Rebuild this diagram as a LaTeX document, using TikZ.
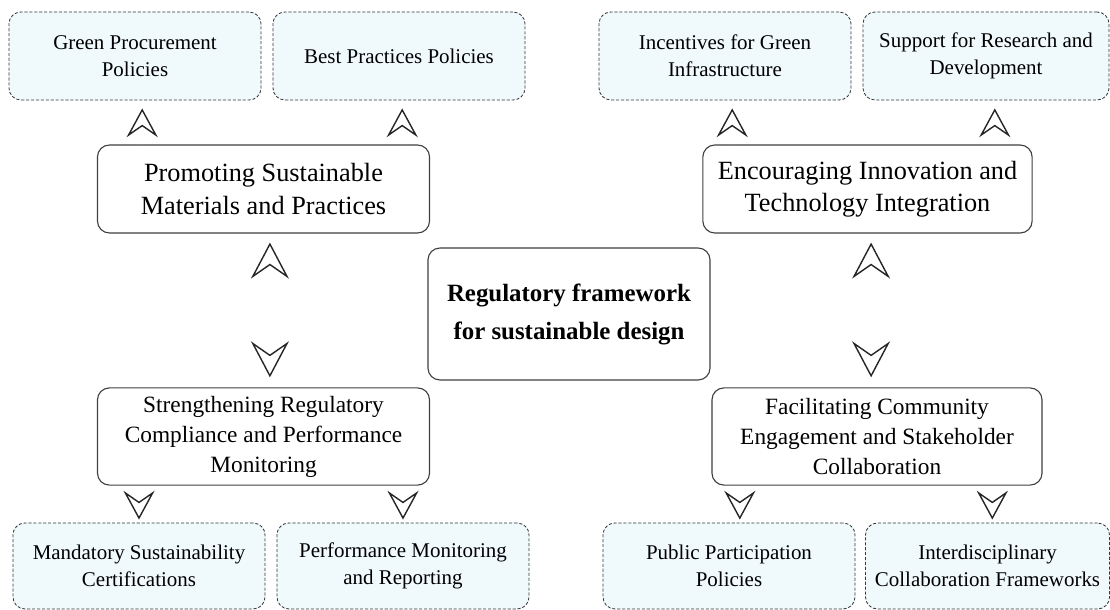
\documentclass[tikz,border=0pt]{standalone}
\usepackage{fontspec}
\setmainfont{Liberation Serif}
\usepackage{tikz}
\usetikzlibrary{arrows.meta,positioning,shapes}
\definecolor{leafblue}{RGB}{240,250,253}

\begin{document}
\begin{tikzpicture}[x=0.025cm,y=-0.025cm]
                \tikzstyle{leaf}=[rectangle, rounded corners=0.3cm, draw=black!78, line width=0.6pt, dash pattern=on 2.2pt off 1.3pt, fill=leafblue, minimum width=6.3cm, minimum height=2.2cm, align=center, font=\fontsize{14.9}{19.2}\selectfont]
                \tikzstyle{theme}=[rectangle, rounded corners=0.3cm, draw=black!75, line width=0.8pt, fill=white, minimum width=8.3cm, minimum height=2.2cm, align=center, font=\fontsize{18.7}{22.8}\selectfont]
                \tikzstyle{pillar}=[theme, minimum height=2.43cm, font=\fontsize{16.6}{21.3}\selectfont]
                \tikzstyle{core}=[theme, minimum width=7.05cm, minimum height=3.3cm, font=\fontsize{17.7}{27}\selectfont\bfseries]
                \tikzstyle{connect}=[white, line width=1pt, shorten >=0.2cm, -{Stealth[open, color=black!85, length=0.72cm, width=0.78cm, inset=0.27cm]}]
                \tikzstyle{twoway}=[white, line width=1pt, shorten <=0.225cm, shorten >=0.25cm, {Stealth[open, color=black!85, length=0.9cm, width=0.95cm, inset=0.33cm]}-{Stealth[open, color=black!85, length=0.9cm, width=0.95cm, inset=0.33cm]}]
                \useasboundingbox (0,0) rectangle (1110,610);
                \node[core] (reg) at (569,314){Regulatory framework\\for sustainable design};
                \node[theme] (prom) at (263.5,189){Promoting Sustainable\\Materials and Practices};
                \node[theme, minimum width=8.23cm] (enc) at (867.5,189){Encouraging Innovation and\\Technology Integration};
                \node[pillar] (stren) at (263.5,436.5){Strengthening Regulatory\\Compliance and Performance\\Monitoring};
                \node[pillar, minimum width=8.25cm] (facil) at (877,436.5){Facilitating Community\\Engagement and Stakeholder\\Collaboration};
    \node[leaf] (green) at (135,56){Green Procurement\\Policies};
                \node[leaf] (best) at (399,56){Best Practices Policies};
                \node[leaf] (incent) at (725,56){Incentives for Green\\Infrastructure};
                \node[leaf, minimum width=6.15cm] (support) at (986,56){Support for Research and\\Development};
    \node[leaf, minimum height=2.15cm] (mand) at (139,566){Mandatory Sustainability\\Certifications};
                \node[leaf, minimum height=2.15cm] (perf) at (403,566){Performance Monitoring\\and Reporting};
                \node[leaf, minimum height=2.15cm] (public) at (729,566){Public Participation\\Policies};
                \node[leaf, minimum height=2.15cm, minimum width=6.1cm] (inter) at (987.5,566){Interdisciplinary\\Collaboration Frameworks};
                \path ([xshift=0.18cm]green.south |- prom.north) edge [connect] ([xshift=0.18cm]green.south);
                \path ([xshift=0.08cm]best.south |- prom.north) edge [connect] ([xshift=0.08cm]best.south);
                \path ([xshift=0.18cm]incent.south |- enc.north) edge [connect] ([xshift=0.18cm]incent.south);
                \path ([xshift=0.22cm]support.south |- enc.north) edge [connect] ([xshift=0.22cm]support.south);
                \path ([xshift=0.16cm]prom.south) edge [twoway] ([xshift=0.16cm]prom.south |- stren.north);
                \path ([xshift=0.09cm]enc.south) edge [twoway] ([xshift=0.09cm]enc.south |- facil.north);
                \path (stren.south -| mand.north) edge [connect, shorten >=0.075cm] (mand.north);
                \path (stren.south -| perf.north) edge [connect, shorten >=0.075cm] (perf.north);
                \path ([xshift=0.27cm]facil.south -| public.north) edge [connect, shorten >=0.075cm] ([xshift=0.27cm]public.north);
                \path ([xshift=0.12cm]facil.south -| inter.north) edge [connect, shorten >=0.075cm] ([xshift=0.12cm]inter.north);
    
    \end{tikzpicture}
\end{document}
